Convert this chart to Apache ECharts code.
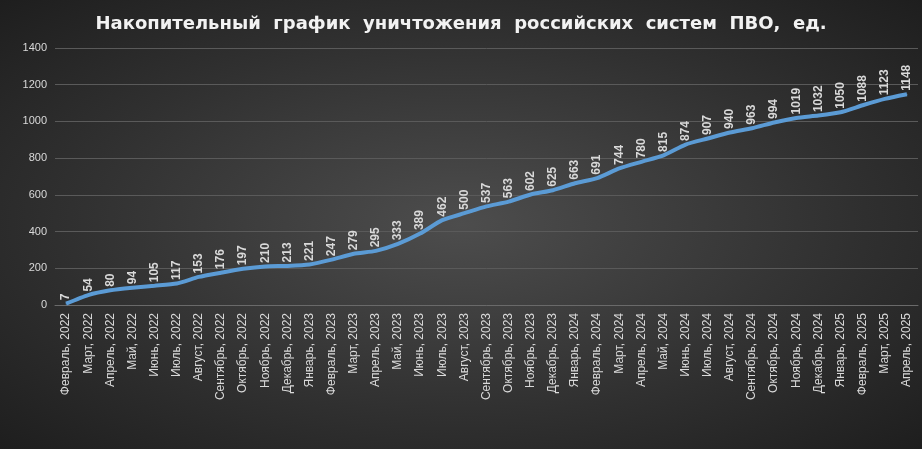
<!DOCTYPE html>
<html><head><meta charset="utf-8">
<script src="https://cdn.jsdelivr.net/npm/echarts@6/dist/echarts.min.js"></script>
<style>html,body{margin:0;padding:0;}#c{width:922px;height:449px;background:radial-gradient(ellipse at center,#4d4d4d 0%,#303030 60%,#1e1e1e 100%);}</style>
</head><body><div id="c"></div>
<script>
var months = ['Февраль, 2022','Март, 2022','Апрель, 2022','Май, 2022','Июнь, 2022','Июль, 2022','Август, 2022','Сентябрь, 2022','Октябрь, 2022','Ноябрь, 2022','Декабрь, 2022',
  'Январь, 2023','Февраль, 2023','Март, 2023','Апрель, 2023','Май, 2023','Июнь, 2023','Июль, 2023','Август, 2023','Сентябрь, 2023','Октябрь, 2023','Ноябрь, 2023','Декабрь, 2023',
  'Январь, 2024','Февраль, 2024','Март, 2024','Апрель, 2024','Май, 2024','Июнь, 2024','Июль, 2024','Август, 2024','Сентябрь, 2024','Октябрь, 2024','Ноябрь, 2024','Декабрь, 2024',
  'Январь, 2025','Февраль, 2025','Март, 2025','Апрель, 2025'];
var totals = [7,54,80,94,105,117,153,176,197,210,213,221,247,279,295,333,389,462,500,537,563,602,625,663,691,744,780,815,874,907,940,963,994,1019,1032,1050,1088,1123,1148];

var chart = echarts.init(document.getElementById('c'));
chart.setOption({
    title: {
        text: 'Накопительный  график  уничтожения  российских  систем  ПВО,  ед.',
        left: 'center', top: 10,
        textStyle: {color: '#f2f2f2', fontSize: 18, fontWeight: 'bold', fontFamily: 'DejaVu Sans'}
    },
    grid: {left: 55, right: 4, top: 48, bottom: 144},
    xAxis: {
        type: 'category', data: months,
        axisLine: {lineStyle: {color: '#6a6a6a'}},
        axisTick: {show: false},
        axisLabel: {rotate: 90, color: '#d9d9d9', fontSize: 12, interval: 0, fontFamily: 'Liberation Sans'}
    },
    yAxis: {
        type: 'value', min: 0, max: 1400, interval: 200,
        axisLine: {show: false}, axisTick: {show: false},
        axisLabel: {color: '#d9d9d9', fontSize: 11, fontFamily: 'Liberation Sans', formatter: function (v) { return String(v); }},
        splitLine: {lineStyle: {color: '#5a5a5a'}}
    },
    series: [{
        type: 'line', data: totals, symbol: 'circle', symbolSize: 1, smooth: 0.2,
        itemStyle: {color: '#5b9bd5'},
        lineStyle: {color: '#5b9bd5', width: 4},
        label: {
            show: true, position: 'top', rotate: 90, align: 'left', verticalAlign: 'middle', distance: 3,
            color: '#d9d9d9', fontSize: 12, fontWeight: 'bold', fontFamily: 'Liberation Sans'
        }
    }]
});
</script></body></html>
